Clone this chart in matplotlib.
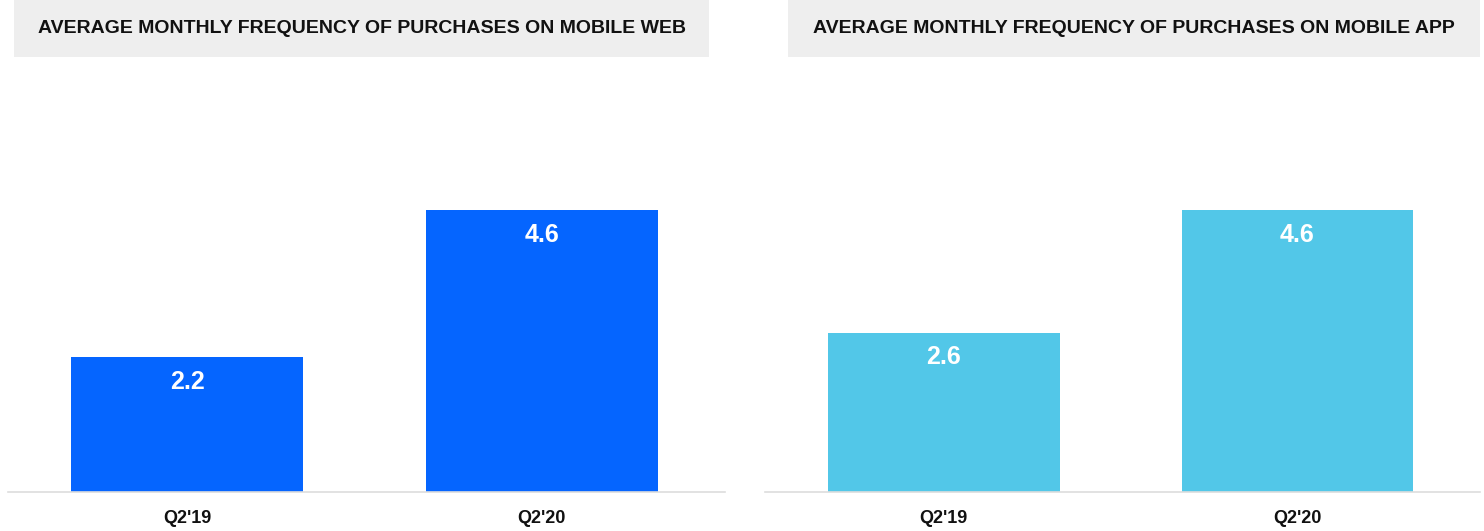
import matplotlib.pyplot as plt
from matplotlib.patches import Rectangle

# DATA
quarters = ["Q2'19", "Q2'20"]
web_freq = [2.2, 4.6]
app_freq = [2.6, 4.6]
titles = ['AVERAGE MONTHLY FREQUENCY OF PURCHASES ON MOBILE WEB',
          'AVERAGE MONTHLY FREQUENCY OF PURCHASES ON MOBILE APP']

plt.rcParams['font.family'] = ['Liberation Sans', 'DejaVu Sans']

W, H = 1484, 531
fig = plt.figure(figsize=(W / 100, H / 100), dpi=100)

def px(x0, y0, x1, y1):
    # pixel box (top-left origin) -> figure fraction rect
    return [x0 / W, 1 - y1 / H, (x1 - x0) / W, (y1 - y0) / H]

panels = [
    dict(ax=(8, 80, 725, 492), box=(14, 0, 709, 57), vals=web_freq, color='#0565FF', title=titles[0]),
    dict(ax=(765, 80, 1480, 492), box=(788, 0, 1480, 57), vals=app_freq, color='#52C7E8', title=titles[1]),
]

for p in panels:
    # title bar
    bx = px(*p['box'])
    fig.patches.append(Rectangle((bx[0], bx[1]), bx[2], bx[3], transform=fig.transFigure,
                                 facecolor='#EEEEEE', edgecolor='none', zorder=0))
    fig.text(bx[0] + bx[2] / 2, bx[1] + bx[3] / 2, p['title'], ha='center', va='center',
             fontsize=14, fontweight='bold', color='#111111')

    ax = fig.add_axes(px(*p['ax']))
    x = range(len(quarters))
    bars = ax.bar(x, p['vals'], width=0.655, color=p['color'], zorder=2)
    for b, v in zip(bars, p['vals']):
        ax.text(b.get_x() + b.get_width() / 2, v - 0.4, f'{v:.1f}', ha='center', va='center',
                color='white', fontsize=18, fontweight='bold', zorder=3)
    ax.set_xlim(-0.506, 1.517)
    ax.set_ylim(0, 412 / 61.3)
    ax.set_xticks(list(x))
    ax.set_xticklabels(quarters, fontsize=13, fontweight='bold', color='#111111')
    ax.tick_params(axis='x', length=0, pad=13)
    ax.set_yticks([])
    for s in ['top', 'left', 'right']:
        ax.spines[s].set_visible(False)
    ax.spines['bottom'].set_color('#DDDDDD')
    ax.spines['bottom'].set_linewidth(1.2)
    ax.patch.set_alpha(0)

plt.savefig('out.png', dpi=100)
